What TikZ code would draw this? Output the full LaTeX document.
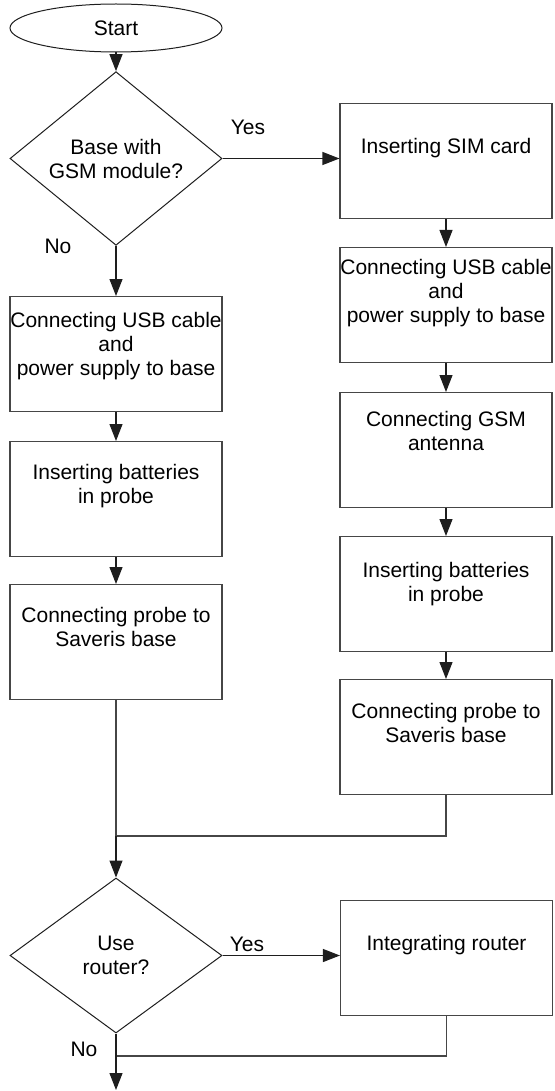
\documentclass[tikz,border=0pt]{standalone}
\usepackage{fontspec}
\setmainfont{Liberation Sans}
\usetikzlibrary{arrows.meta,shapes.geometric}
\definecolor{FlowInk}{RGB}{30,30,30}
\definecolor{FlowFrame}{RGB}{70,70,70}
\tikzset{
  flow/box/.style={
    rectangle,
    draw=FlowFrame,
    line width=0.55pt,
    fill=white,
    align=center,
    anchor=north,
    text=black,
    minimum width=106pt,
    inner xsep=0pt,
    inner ysep=0pt,
    text height=#1,
    text depth=57.5pt-#1,
    font=\fontsize{10.5}{12}\selectfont
  },
  flow/decision/.style={
    diamond,
    draw=FlowInk,
    line width=0.5pt,
    fill=white,
    align=center,
    inner sep=0pt,
    minimum width=106pt,
    minimum height=#1,
    font=\fontsize{10.5}{12}\selectfont
  },
  flow/start/.style={
    ellipse,
    draw=FlowInk,
    line width=0.5pt,
    fill=white,
    inner sep=0pt,
    minimum width=106pt,
    minimum height=24pt,
    font=\fontsize{10.5}{12}\selectfont
  },
  flow/arrow/.style={-{Triangle[length=8.5pt,width=6.5pt]}, line width=0.55pt, draw=FlowInk},
  flow/line/.style={line width=0.55pt, draw=FlowFrame},
  flow/answer/.style={font=\fontsize{10.5}{12}\selectfont, text=black, inner sep=0pt}
}

\begin{document}
\begin{tikzpicture}[x=0.5pt,y=-0.5pt]
  \useasboundingbox (0,0) rectangle (554,1091);
  \node[flow/start] (start) at (116,28) {Start};
  \node[flow/decision=76.5pt] (gsm) at (116,158.5) {Base with\\GSM module?};
  \node[flow/box=25pt] (sim) at (446,103) {Inserting SIM card};
  \node[flow/box=37.5pt] (rusb) at (446,247) {Connecting USB cable\\and\\power supply to base};
  \node[flow/box=29pt] (antenna) at (446,392) {Connecting GSM\\antenna};
  \node[flow/box=32.5pt] (rbatt) at (446,536) {Inserting batteries\\in probe};
  \node[flow/box=31.5pt] (rprobe) at (446,679) {Connecting probe to\\Saveris base};
  \node[flow/box=39.5pt] (lusb) at (116,296) {Connecting USB cable\\and\\power supply to base};
  \node[flow/box=31pt] (lbatt) at (116,441) {Inserting batteries\\in probe};
  \node[flow/box=31pt] (lprobe) at (116,584) {Connecting probe to\\Saveris base};
  \node[flow/decision=77.5pt] (router) at (116,955.5) {Use\\router?};
  \node[flow/box=25pt] (integrate) at (446.5,900) {Integrating router};
  \node[flow/answer] (yes1) at (248,127) {Yes};
  \node[flow/answer] (no1) at (58,246) {No};
  \node[flow/answer] (yes2) at (247,944) {Yes};
  \node[flow/answer] (no2) at (84,1049) {No};
  \coordinate (join1) at (116,836);
  \coordinate (join2) at (116,1056);
  \coordinate (finish) at (116,1090);
  \draw[flow/arrow] (start) -- (gsm);
  \draw[flow/arrow] (gsm.east) -- (gsm.east -| sim.west);
  \draw[flow/arrow] (gsm) -- (lusb);
  \draw[flow/arrow] (lusb) -- (lbatt);
  \draw[flow/arrow] (lbatt) -- (lprobe);
  \draw[flow/arrow] (sim) -- (rusb);
  \draw[flow/arrow] (rusb) -- (antenna);
  \draw[flow/arrow] (antenna) -- (rbatt);
  \draw[flow/arrow] (rbatt) -- (rprobe);
  \draw[flow/line] (lprobe) -- (join1);
  \draw[flow/line] (rprobe) |- (join1);
  \draw[flow/arrow] (join1) -- (router);
  \draw[flow/arrow] (router.east) -- (router.east -| integrate.west);
  \draw[flow/line] (integrate) |- (join2);
  \draw[flow/arrow] (router) -- (finish);
\end{tikzpicture}
\end{document}
